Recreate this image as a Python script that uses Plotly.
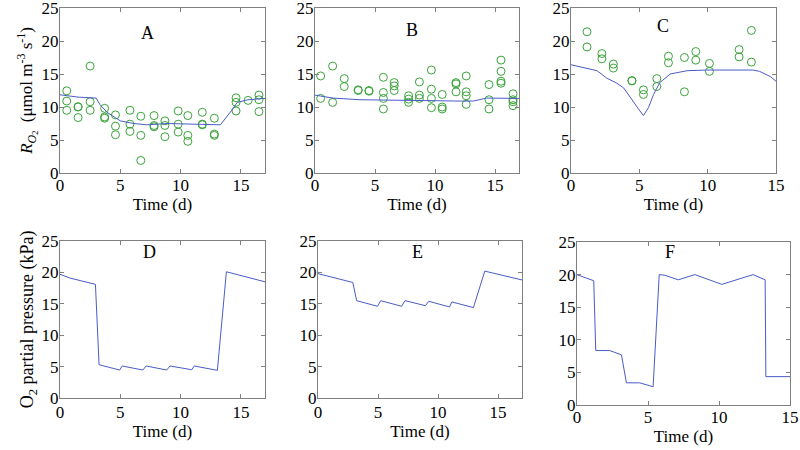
import plotly.graph_objects as go
from plotly.subplots import make_subplots

# panel A: measured O2 uptake rate and model
a_obs_t = [0.56, 0.56, 0.56, 1.5, 1.5, 1.5, 2.5, 2.5, 2.5, 3.7, 3.7, 3.7, 4.6, 4.6, 4.6,
           5.8, 5.8, 5.8, 6.7, 6.7, 6.7, 7.8, 7.8, 7.8, 8.7, 8.7, 8.7, 9.8, 9.8, 9.8,
           10.6, 10.6, 10.6, 11.8, 11.8, 11.8, 12.8, 12.8, 12.8, 14.6, 14.6, 14.6,
           15.6, 16.5, 16.5, 16.5]
a_obs_r = [12.45, 10.9, 9.5, 10.0, 10.05, 8.4, 16.2, 10.8, 9.5, 9.8, 8.5, 8.3, 8.8, 7.1, 5.8,
           9.5, 7.4, 6.3, 8.6, 5.7, 1.9, 8.7, 7.2, 7.0, 7.9, 7.2, 5.5, 9.4, 7.4, 6.2,
           8.7, 5.7, 4.8, 9.2, 7.4, 7.3, 8.3, 5.9, 5.7, 11.4, 10.7, 9.4,
           11.0, 11.8, 11.1, 9.3]
a_mod_t = [0, 1.5, 3.0, 3.3, 3.9, 5.0, 6.1, 7.2, 8.9, 10.6, 12.2, 13.3, 14.2, 14.7, 15.6, 17]
a_mod_r = [11.85, 11.5, 11.35, 10.4, 9.2, 7.9, 7.5, 7.3, 7.5, 7.4, 7.4, 7.3, 9.4, 10.7, 11.1, 11.3]

# panel B
b_obs_t = [0.47, 0.47, 1.47, 1.47, 2.44, 2.44, 3.6, 3.6, 4.5, 4.5,
           5.7, 5.7, 5.7, 5.7, 6.6, 6.6, 6.6, 7.8, 7.8, 7.8, 8.7, 8.7, 8.7,
           9.7, 9.7, 9.7, 9.7, 10.6, 10.6, 10.6, 11.75, 11.75, 11.75,
           12.6, 12.6, 12.6, 12.6, 14.5, 14.5, 14.5, 15.5, 15.5, 15.5, 15.5,
           16.5, 16.5, 16.5, 16.5]
b_obs_r = [14.7, 11.3, 16.2, 10.7, 14.3, 13.1, 12.6, 12.5, 12.5, 12.4,
           14.5, 12.2, 11.3, 9.7, 13.7, 13.2, 12.5, 11.7, 11.2, 10.7, 13.8, 11.8, 11.3,
           15.6, 12.7, 11.3, 9.9, 11.9, 10.0, 9.7, 13.7, 13.5, 12.3,
           14.7, 12.3, 11.7, 10.4, 13.4, 11.1, 9.7, 17.1, 15.4, 13.9, 13.6,
           12.0, 11.1, 10.8, 10.2]
b_mod_t = [0, 1.5, 3.75, 6.5, 9.3, 12.1, 13.2, 14.3, 17]
b_mod_r = [11.8, 11.35, 11.1, 11.0, 11.0, 10.9, 10.9, 11.35, 11.3]

# panel C
c_obs_t = [1.17, 1.17, 2.26, 2.26, 3.1, 3.1, 4.46, 4.46, 5.3, 5.3, 6.28, 6.28,
           7.13, 7.13, 8.3, 8.3, 9.13, 9.13, 10.13, 10.13, 12.3, 12.3, 13.2, 13.2]
c_obs_r = [21.4, 19.1, 18.1, 17.3, 16.5, 15.9, 14.0, 13.95, 12.6, 11.9, 14.3, 13.1,
           17.7, 16.7, 17.5, 12.3, 18.4, 17.1, 16.6, 15.4, 18.7, 17.6, 21.6, 16.8]
c_mod_t = [0, 1.17, 1.9, 2.6, 3.36, 3.85, 4.33, 4.94, 5.3, 5.67, 6.04, 6.5, 7.26,
           8.5, 9.9, 13.3, 13.8, 14.6, 15]
c_mod_r = [16.4, 15.8, 15.5, 14.4, 13.6, 12.9, 11.4, 9.7, 8.7, 9.9, 11.9, 13.7, 15.0,
           15.5, 15.6, 15.6, 15.4, 14.6, 13.9]

# panels D-F: O2 partial pressure
d_t = [0, 0.82, 2.94, 3.24, 4.95, 5.16, 6.87, 7.14, 8.85, 9.12, 10.93, 11.13, 13.05, 13.8, 17]
d_p = [19.7, 19.1, 18.1, 5.3, 4.45, 5.1, 4.45, 5.1, 4.45, 5.1, 4.5, 5.1, 4.4, 20.1, 18.5]
e_t = [0, 2.9, 3.22, 4.96, 5.23, 6.97, 7.25, 8.95, 9.23, 10.96, 11.15, 12.95, 13.9, 17]
e_p = [19.8, 18.4, 15.5, 14.6, 15.5, 14.6, 15.5, 14.7, 15.4, 14.5, 15.3, 14.4, 20.2, 18.8]
f_t = [0, 1.18, 1.32, 2.3, 3.13, 3.48, 4.42, 5.36, 5.79, 6.19, 7.13, 8.3, 10.2, 12.4,
       13.25, 13.3, 15]
f_p = [19.98, 19.06, 8.35, 8.35, 7.7, 3.4, 3.4, 2.8, 20.0, 19.9, 19.2, 20.0, 18.5, 20.0,
       19.2, 4.35, 4.35]

letters = ["A", "B", "C", "D", "E", "F"]
letter_pos = [(7.25, 21.2), (8.1, 21.7), (6.7, 22.3), (7.4, 23.2), (8.25, 23.2), (6.55, 23.5)]

LINE = "#4a5cc8"
DOT = "#3aa33a"
FONT = "Times New Roman, Liberation Serif, serif"

fig = make_subplots(rows=2, cols=3)

for col, (ot, orr, mt, mr) in enumerate([(a_obs_t, a_obs_r, a_mod_t, a_mod_r),
                                           (b_obs_t, b_obs_r, b_mod_t, b_mod_r),
                                           (c_obs_t, c_obs_r, c_mod_t, c_mod_r)], start=1):
    fig.add_trace(go.Scatter(x=ot, y=orr, mode="markers",
                             marker=dict(symbol="circle-open", size=8, color=DOT,
                                         line=dict(width=1))), row=1, col=col)
    fig.add_trace(go.Scatter(x=mt, y=mr, mode="lines", line=dict(color=LINE, width=1)),
                  row=1, col=col)

for col, (t, p) in enumerate([(d_t, d_p), (e_t, e_p), (f_t, f_p)], start=1):
    fig.add_trace(go.Scatter(x=t, y=p, mode="lines", line=dict(color=LINE, width=1)),
                  row=2, col=col)

# pixel-fitted panel boxes (page pixels)
xdoms = [(60, 265), (315, 519), (571, 776), (60, 265), (318, 522), (577, 790)]
ydoms = [(8, 173), (8, 173), (8, 173), (241, 398), (241, 398), (242, 405)]
xmax = [17, 17, 15, 17, 17, 15]
xlab_off = [-3, -3, -3, -1, -1, -3]

ax = dict(showgrid=False, zeroline=False, showline=True, linecolor="#808080",
          linewidth=1, mirror="ticks", ticks="inside", ticklen=4, tickcolor="#808080",
          automargin=False, ticklabeloverflow="allow",
          tickfont=dict(family=FONT, size=17, color="black"))

for i in range(6):
    n = "" if i == 0 else str(i + 1)
    x0, x1 = xdoms[i]
    y0, y1 = ydoms[i]
    fig.layout["xaxis" + n].update(ax, domain=[x0 / 800, x1 / 800], range=[0, xmax[i]],
                                   dtick=5, ticklabelstandoff=xlab_off[i],
                                   title=dict(text="Time (d)", standoff=0,
                                   font=dict(family=FONT, size=17, color="black")))
    fig.layout["yaxis" + n].update(ax, domain=[1 - y1 / 450, 1 - y0 / 450], range=[0, 25],
                                   dtick=5, ticklabelstandoff=-3)
    fig.add_annotation(x=letter_pos[i][0], y=letter_pos[i][1], text=letters[i],
                       xref="x" + n, yref="y" + n, showarrow=False,
                       font=dict(family=FONT, size=18, color="black"))

fig.layout.yaxis.title = dict(text="<i>R</i><sub><i>O</i><sub>2</sub></sub>  (μmol m<sup>-3</sup> s<sup>-1</sup>)",
                              standoff=4, font=dict(family=FONT, size=17, color="black"))
fig.layout.yaxis4.title = dict(text="O<sub>2</sub> partial pressure (kPa)", standoff=3,
                               font=dict(family=FONT, size=18, color="black"))

fig.update_layout(width=800, height=450, showlegend=False,
                  font=dict(family=FONT, size=17, color="black"),
                  margin=dict(l=0, r=0, t=0, b=0),
                  plot_bgcolor="white", paper_bgcolor="white")

# drop the default body margin so the 800x450 figure fills the window
fig.write_html("out.html", config={"displayModeBar": False},
               post_script="document.body.style.margin='0';")
